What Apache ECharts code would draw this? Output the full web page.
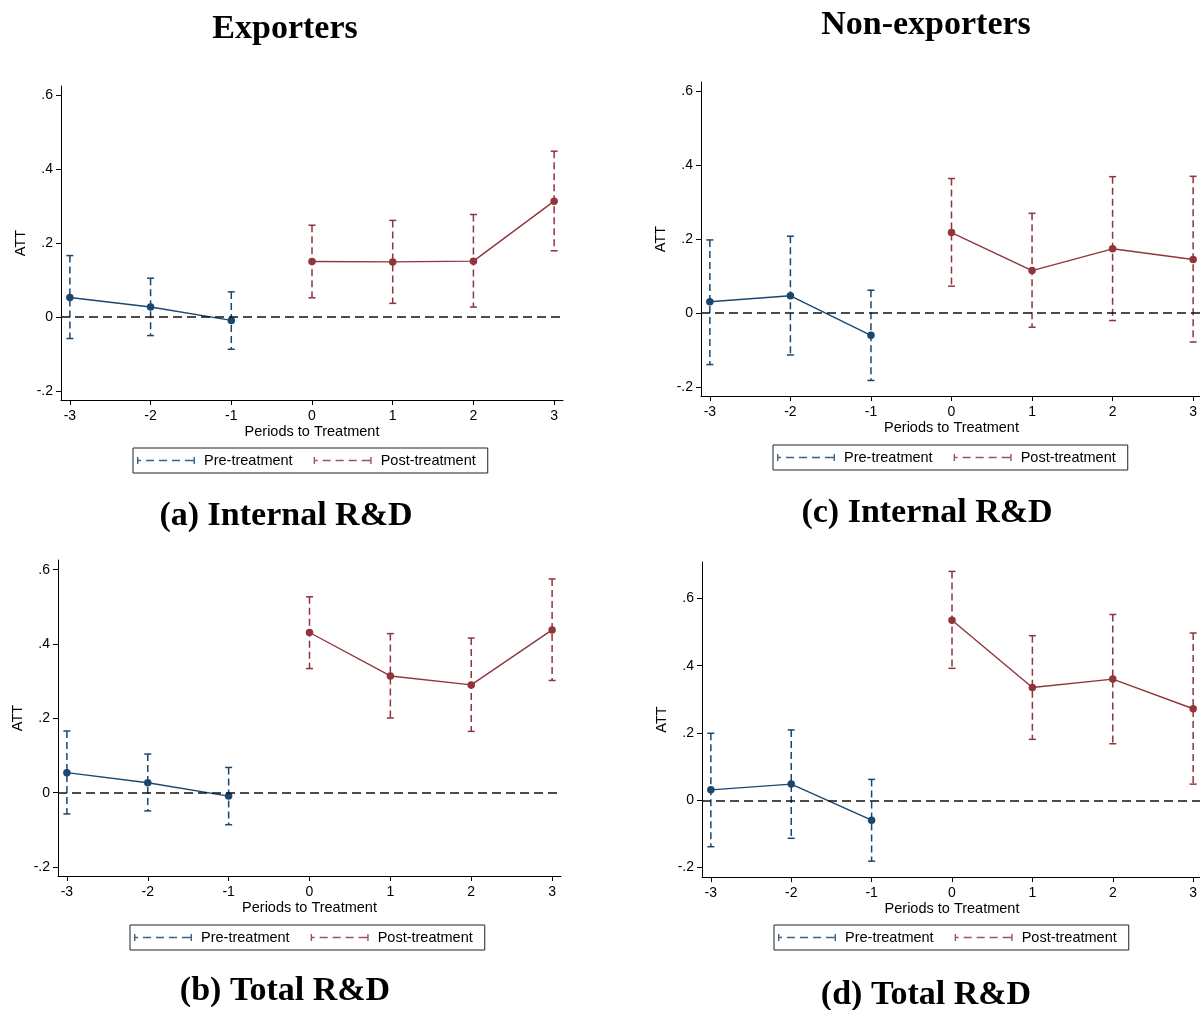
<!DOCTYPE html>
<html>
<head>
<meta charset="utf-8">
<script src="https://cdn.jsdelivr.net/npm/echarts@6/dist/echarts.min.js"></script>
<style>
  html, body { margin: 0; padding: 0; background: #fff; }
  #chart { width: 1200px; height: 1010px; }
</style>
</head>
<body>
<div id="chart"></div>
<script>
// Event-study estimates (ATT) with 95% confidence bounds, periods -3..3
const periods = [-3, -2, -1, 0, 1, 2, 3];
const xTickValues = [-3, -2, -1, 0, 1, 2, 3];
const yTickValues = [-0.2, 0, 0.2, 0.4, 0.6];
const legendNames = ['Pre-treatment', 'Post-treatment'];
const panelTitles = ['(a) Internal R&D', '(c) Internal R&D', '(b) Total R&D', '(d) Total R&D'];
const columnTitles = ['Exporters', 'Non-exporters'];

// Exporters, internal R&D
const expIntATT = [0.053, 0.027, -0.009, 0.150, 0.149, 0.151, 0.313];
const expIntLo  = [-0.058, -0.050, -0.087, 0.052, 0.037, 0.027, 0.179];
const expIntHi  = [0.166, 0.105, 0.068, 0.248, 0.261, 0.277, 0.448];

// Non-exporters, internal R&D
const nonIntATT = [0.031, 0.047, -0.060, 0.218, 0.115, 0.174, 0.145];
const nonIntLo  = [-0.139, -0.113, -0.182, 0.073, -0.038, -0.020, -0.078];
const nonIntHi  = [0.198, 0.208, 0.062, 0.364, 0.270, 0.369, 0.370];

// Exporters, total R&D
const expTotATT = [0.054, 0.027, -0.009, 0.431, 0.314, 0.290, 0.438];
const expTotLo  = [-0.057, -0.049, -0.086, 0.334, 0.201, 0.165, 0.302];
const expTotHi  = [0.166, 0.104, 0.068, 0.527, 0.428, 0.416, 0.575];

// Non-exporters, total R&D
const nonTotATT = [0.031, 0.048, -0.059, 0.535, 0.335, 0.360, 0.272];
const nonTotLo  = [-0.138, -0.113, -0.181, 0.392, 0.181, 0.168, 0.048];
const nonTotHi  = [0.199, 0.209, 0.062, 0.680, 0.489, 0.552, 0.497];

const PRE_COLOR = '#1a476f';
const POST_COLOR = '#90353b';
const SANS = '"Liberation Sans", Arial, sans-serif';
const SERIF = '"Liberation Serif", "DejaVu Serif", serif';

// Panel layout: estimates + placement of each plot region and its legend
const panels = [
  { att: expIntATT, lo: expIntLo, hi: expIntHi,
    grid: { left: 61, top: 86, width: 502, height: 314 }, yRange: [-0.224, 0.624],
    legendPos: { left: 133, top: 448 } },
  { att: nonIntATT, lo: nonIntLo, hi: nonIntHi,
    grid: { left: 701, top: 82, width: 501, height: 314 }, yRange: [-0.224, 0.625],
    legendPos: { left: 773, top: 445 } },
  { att: expTotATT, lo: expTotLo, hi: expTotHi,
    grid: { left: 58, top: 560, width: 503, height: 316 }, yRange: [-0.224, 0.626],
    legendPos: { left: 130, top: 925 } },
  { att: nonTotATT, lo: nonTotLo, hi: nonTotHi,
    grid: { left: 702, top: 562, width: 500, height: 315 }, yRange: [-0.228, 0.708],
    legendPos: { left: 774, top: 925 } }
];

// Legend key: a horizontal capped dashed bar  |- - - -|
const capIcon = 'path://M0,0h1.4v7h-1.4z M1.4,2.8h2.6v1.4h-2.6z M9,2.8h8v1.4h-8z M22,2.8h8v1.4h-8z ' +
  'M35,2.8h8v1.4h-8z M48,2.8h8.6v1.4h-8.6z M56.6,0h1.4v7h-1.4z';

function fmtY(v) {
  if (Math.abs(v) < 1e-9) return '0';
  return String(Math.round(v * 10) / 10).replace('0.', '.');
}

function capBars(name, color, xs, lo, hi, gi) {
  return {
    type: 'custom', name: name, xAxisIndex: gi, yAxisIndex: gi,
    itemStyle: { color: color }, z: 2, silent: true,
    data: xs.map((x, k) => [x, lo[k], hi[k]]),
    encode: { x: 0, y: [1, 2] },
    renderItem: function (params, api) {
      const x = api.value(0);
      const top = api.coord([x, api.value(2)]);
      const bot = api.coord([x, api.value(1)]);
      const w = 3.5;
      const solid = { stroke: color, lineWidth: 1.5 };
      return {
        type: 'group',
        children: [
          { type: 'line', shape: { x1: top[0], y1: top[1], x2: bot[0], y2: bot[1] },
            style: { stroke: color, lineWidth: 1.5, lineDash: [7, 4] } },
          { type: 'line', shape: { x1: top[0] - w, y1: top[1], x2: top[0] + w, y2: top[1] }, style: solid },
          { type: 'line', shape: { x1: bot[0] - w, y1: bot[1], x2: bot[0] + w, y2: bot[1] }, style: solid }
        ]
      };
    }
  };
}

function estLine(name, color, xs, att, gi, withZero) {
  const s = {
    type: 'line', name: name, xAxisIndex: gi, yAxisIndex: gi, z: 3, silent: true,
    data: xs.map((x, k) => [x, att[k]]),
    symbol: 'circle', symbolSize: 7.5,
    itemStyle: { color: color },
    lineStyle: { color: color, width: 1.4 }
  };
  if (withZero) {
    s.markLine = {
      silent: true, symbol: ['none', 'none'], label: { show: false },
      lineStyle: { color: '#111', width: 1.6, type: [9, 5] },
      data: [{ yAxis: 0 }]
    };
  }
  return s;
}

const grids = [], xAxes = [], yAxes = [], legends = [], series = [];
panels.forEach((p, gi) => {
  grids.push(Object.assign({ containLabel: false, outerBoundsMode: 'none' }, p.grid));
  xAxes.push({
    type: 'value', gridIndex: gi, min: -3.11, max: 3.11,
    name: 'Periods to Treatment', nameLocation: 'middle', nameGap: 24,
    nameTextStyle: { fontSize: 14.5, color: '#000', fontFamily: SANS },
    axisLine: { onZero: false, lineStyle: { color: '#000', width: 1 } },
    axisTick: { show: true, length: 5, customValues: xTickValues, lineStyle: { color: '#000' } },
    axisLabel: { customValues: xTickValues, margin: 9, fontSize: 14, color: '#000', fontFamily: SANS,
                 formatter: v => String(v) },
    splitLine: { show: false }
  });
  yAxes.push({
    type: 'value', gridIndex: gi, min: p.yRange[0], max: p.yRange[1],
    name: 'ATT', nameLocation: 'middle', nameGap: 33,
    nameTextStyle: { fontSize: 14.5, color: '#000', fontFamily: SANS },
    axisLine: { show: true, onZero: false, lineStyle: { color: '#000', width: 1 } },
    axisTick: { show: true, length: 5, customValues: yTickValues, lineStyle: { color: '#000' } },
    axisLabel: { customValues: yTickValues, margin: 8, fontSize: 14, color: '#000', fontFamily: SANS,
                 formatter: fmtY },
    splitLine: { show: false }
  });
  legends.push({
    left: p.legendPos.left, top: p.legendPos.top, orient: 'horizontal',
    data: legendNames.map(n => ({ name: n, icon: capIcon })),
    itemWidth: 58, itemHeight: 7, itemGap: 21,
    padding: [5, 12, 5, 4], borderColor: '#222', borderWidth: 1,
    selectedMode: false,
    itemStyle: { borderWidth: 0, opacity: 0.85 },
    textStyle: { fontSize: 14.5, color: '#000', fontFamily: SANS, padding: [0, 0, 0, 4] }
  });
  const preX = periods.slice(0, 3), postX = periods.slice(3);
  series.push(capBars(legendNames[0], PRE_COLOR, preX, p.lo.slice(0, 3), p.hi.slice(0, 3), gi));
  series.push(capBars(legendNames[1], POST_COLOR, postX, p.lo.slice(3), p.hi.slice(3), gi));
  series.push(estLine('Pre-treatment ATT', PRE_COLOR, preX, p.att.slice(0, 3), gi, true));
  series.push(estLine('Post-treatment ATT', POST_COLOR, postX, p.att.slice(3), gi, false));
});

// Headings placed by baseline
function heading(text, x, baseline) {
  return { type: 'text', x: x, y: baseline, silent: true,
    style: { text: text, font: 'bold 34px ' + SERIF, fill: '#000', align: 'center', verticalAlign: 'bottom' } };
}

const chart = echarts.init(document.getElementById('chart'), null, { renderer: 'canvas' });
chart.setOption({
  animation: false,
  backgroundColor: '#fff',
  textStyle: { fontFamily: SANS },
  grid: grids,
  xAxis: xAxes,
  yAxis: yAxes,
  legend: legends,
  series: series,
  graphic: [
    heading(columnTitles[0], 285, 46),
    heading(columnTitles[1], 926, 42),
    heading(panelTitles[0], 286, 533),
    heading(panelTitles[1], 927, 530),
    heading(panelTitles[2], 285, 1008),
    heading(panelTitles[3], 926, 1012)
  ]
});
</script>
</body>
</html>
